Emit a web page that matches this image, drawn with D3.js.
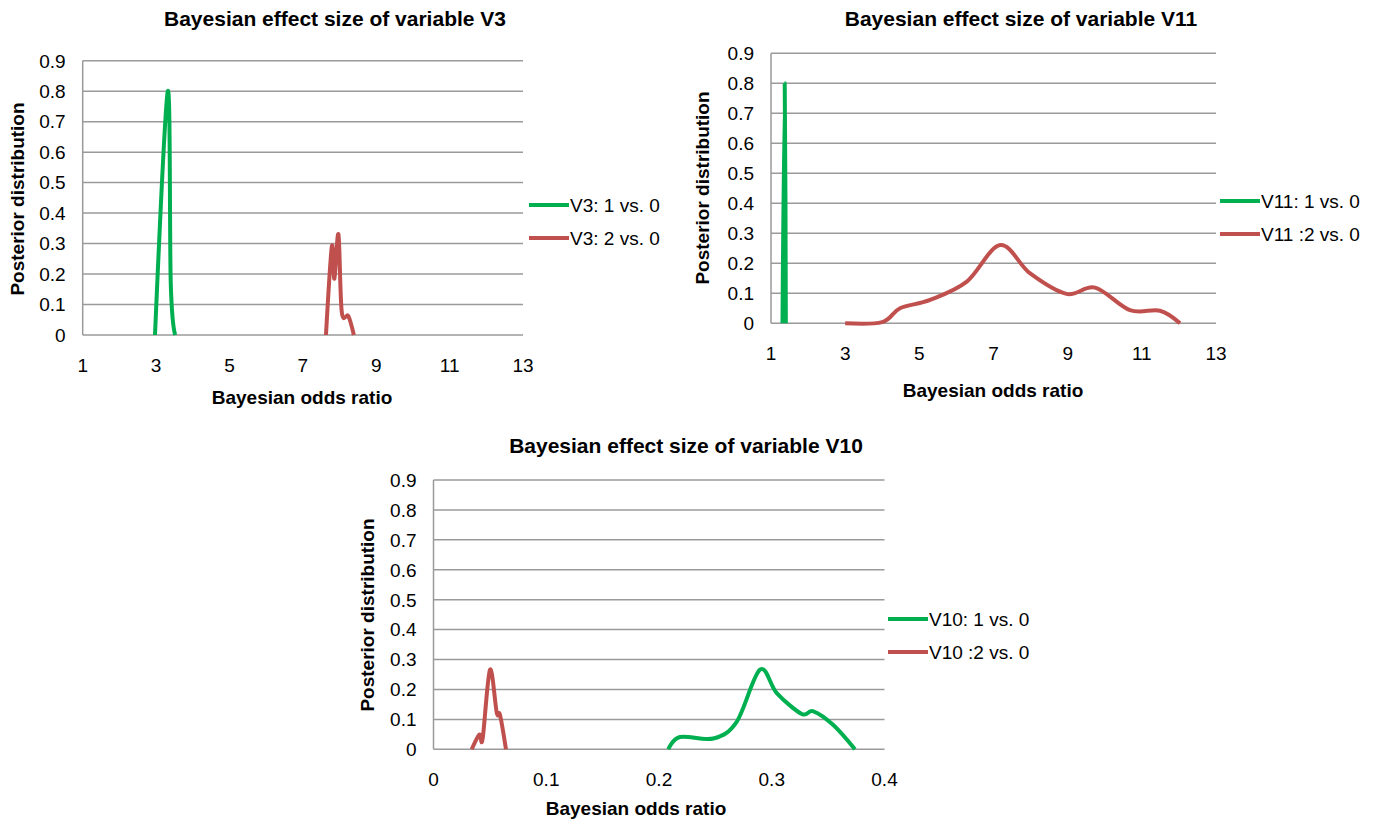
<!DOCTYPE html>
<html>
<head>
<meta charset="utf-8">
<script src="https://cdn.jsdelivr.net/npm/d3@7"></script>
<style>
  body { margin: 0; background: #fff; }
  text { font-family: "Liberation Sans", Arial, sans-serif; fill: #000; }
</style>
</head>
<body>
<script>
// data
const orTicks = [1, 3, 5, 7, 9, 11, 13];
const v10Ticks = [0, 0.1, 0.2, 0.3, 0.4];
const yTicks = [0, 0.1, 0.2, 0.3, 0.4, 0.5, 0.6, 0.7, 0.8, 0.9];

const v3aX = [2.97, 3.32, 3.40, 3.52];
const v3aY = [0, 0.80, 0.17, 0];
const v3bX = [7.63, 7.79, 7.86, 7.97, 8.06, 8.24, 8.39];
const v3bY = [0, 0.29, 0.185, 0.33, 0.076, 0.062, 0];

const v11aX = [1.31, 1.37, 1.40];
const v11aY = [0, 0.80, 0];
const v11bX = [3, 4, 4.48, 5.29, 6.28, 7.18, 7.98, 8.97, 9.74, 10.68, 11.49, 12.03];
const v11bY = [0, 0.004, 0.05, 0.078, 0.139, 0.261, 0.167, 0.098, 0.119, 0.044, 0.042, 0];

const v10aX = [0.2083, 0.2186, 0.2482, 0.2689, 0.2896, 0.3044, 0.3266, 0.3369, 0.3546, 0.3738];
const v10aY = [0, 0.041, 0.036, 0.092, 0.266, 0.188, 0.118, 0.127, 0.081, 0];
const v10bX = [0.0339, 0.0406, 0.0436, 0.0501, 0.0561, 0.059, 0.0643];
const v10bY = [0, 0.049, 0.036, 0.266, 0.122, 0.115, 0];

const green = "#00b050", red = "#c0504d";
const zip = (xs, ys) => xs.map((x, i) => [x, ys[i]]);

const svg = d3.select("body").append("svg").attr("width", 1384).attr("height", 821);

function chart(c) {
  const x = d3.scaleLinear().domain(c.xDomain).range([c.left, c.right]);
  const y = d3.scaleLinear().domain([0, 0.9]).range([c.bottom, c.top]);
  const g = svg.append("g");

  g.selectAll("line.grid").data(yTicks).enter().append("line")
    .attr("x1", c.left).attr("x2", c.right)
    .attr("y1", d => y(d)).attr("y2", d => y(d))
    .attr("stroke", "#9a9a9a").attr("stroke-width", 1.5);
  g.append("line").attr("x1", c.left).attr("x2", c.left)
    .attr("y1", c.top).attr("y2", c.bottom)
    .attr("stroke", "#9a9a9a").attr("stroke-width", 1.5);

  g.selectAll("text.yt").data(yTicks).enter().append("text")
    .attr("x", c.left - 17).attr("y", d => y(d)).attr("dy", "0.36em")
    .attr("text-anchor", "end").style("font-size", "19px")
    .text(d => d === 0 ? "0" : d.toFixed(1));
  g.selectAll("text.xt").data(c.xTicks).enter().append("text")
    .attr("x", d => x(d)).attr("y", c.xTickY).attr("dy", "0.36em")
    .attr("text-anchor", "middle").style("font-size", "19px")
    .text(d => String(d));

  g.append("text").attr("x", c.titleX).attr("y", c.titleY).attr("dy", "0.36em")
    .attr("text-anchor", "middle").style("font-size", "21px").style("font-weight", "bold")
    .text(c.title);
  g.append("text").attr("x", c.xTitleX).attr("y", c.xTitleY).attr("dy", "0.36em")
    .attr("text-anchor", "middle").style("font-size", "19px").style("font-weight", "bold")
    .text("Bayesian odds ratio");
  g.append("text")
    .attr("transform", `translate(${c.yTitleX},${c.yTitleY}) rotate(-90)`)
    .attr("dy", "0.36em").attr("text-anchor", "middle")
    .style("font-size", "19px").style("font-weight", "bold")
    .text("Posterior distribution");

  const line = d3.line().x(d => x(d[0])).y(d => y(d[1])).curve(d3.curveCardinal.tension(0));
  c.series.forEach((s, i) => {
    g.append("path").datum(s.pts).attr("d", line)
      .attr("fill", "none").attr("stroke", s.color).attr("stroke-width", 4)
      .attr("stroke-linejoin", "round");
    const ly = c.legendY[i];
    g.append("line").attr("x1", c.legendX).attr("x2", c.legendX + 40)
      .attr("y1", ly).attr("y2", ly).attr("stroke", s.color).attr("stroke-width", 4);
    g.append("text").attr("x", c.legendX + 41).attr("y", ly).attr("dy", "0.36em")
      .style("font-size", "19px").text(s.name);
  });
}

chart({
  title: "Bayesian effect size of variable V3", titleX: 335, titleY: 18,
  xDomain: [1, 13], xTicks: orTicks,
  left: 82.7, right: 523, top: 60.7, bottom: 335,
  xTickY: 365, xTitleX: 302, xTitleY: 397, yTitleX: 17, yTitleY: 199,
  legendX: 529, legendY: [205, 238],
  series: [
    { name: "V3: 1 vs. 0", color: green, pts: zip(v3aX, v3aY) },
    { name: "V3: 2 vs. 0", color: red, pts: zip(v3bX, v3bY) }
  ]
});

chart({
  title: "Bayesian effect size of variable V11", titleX: 1021, titleY: 18,
  xDomain: [1, 13], xTicks: orTicks,
  left: 771, right: 1216, top: 53.3, bottom: 323.3,
  xTickY: 353, xTitleX: 993, xTitleY: 390, yTitleX: 702, yTitleY: 188,
  legendX: 1220, legendY: [201, 234],
  series: [
    { name: "V11: 1 vs. 0", color: green, pts: zip(v11aX, v11aY) },
    { name: "V11 :2 vs. 0", color: red, pts: zip(v11bX, v11bY) }
  ]
});

chart({
  title: "Bayesian effect size of variable V10", titleX: 686, titleY: 445,
  xDomain: [0, 0.4], xTicks: v10Ticks,
  left: 433.5, right: 884.5, top: 480, bottom: 749.3,
  xTickY: 779, xTitleX: 636, xTitleY: 808, yTitleX: 367, yTitleY: 615,
  legendX: 888, legendY: [619, 652],
  series: [
    { name: "V10: 1 vs. 0", color: green, pts: zip(v10aX, v10aY) },
    { name: "V10 :2 vs. 0", color: red, pts: zip(v10bX, v10bY) }
  ]
});
</script>
</body>
</html>
